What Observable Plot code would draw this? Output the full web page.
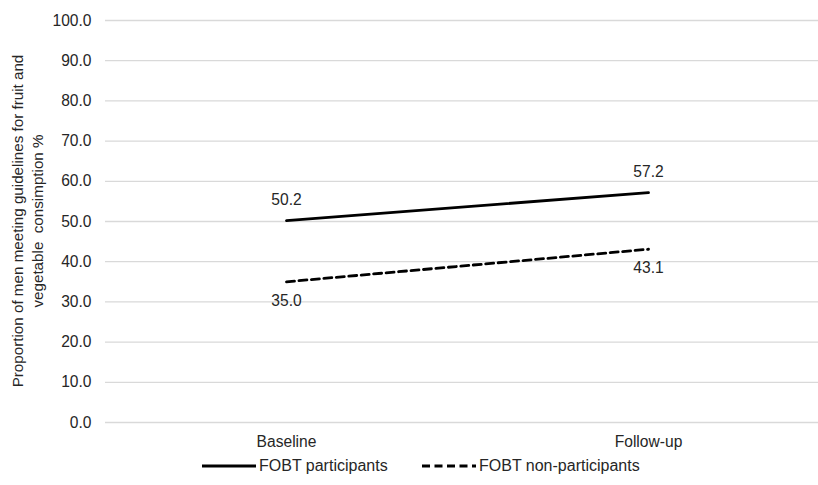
<!DOCTYPE html>
<html>
<head>
<meta charset="utf-8">
<script src="https://cdn.jsdelivr.net/npm/d3@7"></script>
<script src="https://cdn.jsdelivr.net/npm/@observablehq/plot@0.6"></script>
<style>
  html, body { margin: 0; padding: 0; background: #fff; }
  body { width: 818px; height: 485px; overflow: hidden; font-family: "Liberation Sans", Arial, sans-serif; }
  #legend { position: relative; height: 33px; font-size: 16px; color: #262626; }
  .item { position: absolute; top: 0; height: 28px; display: flex; align-items: center; }
  .item svg { margin-right: 3px; }
</style>
</head>
<body>
<div id="chart"></div>
<div id="legend"></div>
<script>
const timepoints = ["Baseline", "Follow-up"];
const participants = [50.2, 57.2];
const nonParticipants = [35.0, 43.1];
const seriesNames = ["FOBT participants", "FOBT non-participants"];
const yTicks = [0, 10, 20, 30, 40, 50, 60, 70, 80, 90, 100];
const yTitle = ["Proportion of men meeting guidelines for fruit and", "vegetable  consimption %"];

const rowsP = timepoints.map((t, i) => ({time: t, value: participants[i], series: seriesNames[0]}));
const rowsN = timepoints.map((t, i) => ({time: t, value: nonParticipants[i], series: seriesNames[1]}));

const ink = "#262626";
const fs = 15.6;

const chart = Plot.plot({
  width: 818,
  height: 452,
  marginLeft: 105,
  marginRight: 0,
  marginTop: 20,
  marginBottom: 30,
  style: {fontFamily: "'Liberation Sans', Arial, sans-serif", fontSize: fs + "px", color: ink, background: "#fff"},
  x: {type: "point", domain: timepoints, range: [286, 648], padding: 0, label: null},
  y: {domain: [0, 100], label: null},
  marks: [
    Plot.ruleY(yTicks, {stroke: "#d9d9d9", strokeWidth: 1.3}),
    Plot.axisY({ticks: yTicks, tickFormat: d3.format(".1f"), tickSize: 0, tickPadding: 14, fontSize: fs, label: null}),
    Plot.axisX({tickSize: 0, tickPadding: 13, fontSize: fs, label: null}),
    Plot.line(rowsP, {x: "time", y: "value", stroke: "#000", strokeWidth: 2.8}),
    Plot.line(rowsN, {x: "time", y: "value", stroke: "#000", strokeWidth: 2.8, strokeDasharray: "8,4.5"}),
    Plot.text(rowsP, {x: "time", y: "value", text: d => d3.format(".1f")(d.value), dy: -21, fontSize: fs, fill: ink}),
    Plot.text(rowsN, {x: "time", y: "value", text: d => d3.format(".1f")(d.value), dy: 19, fontSize: fs, fill: ink})
  ]
});

// rotated two-line y-axis title
const svg = d3.select(chart);
const title = svg.append("text")
  .attr("transform", "translate(28,221) rotate(-90)")
  .attr("text-anchor", "middle")
  .attr("font-size", 15.2)
  .attr("fill", ink);
yTitle.forEach((line, i) => {
  title.append("tspan").attr("x", 0).attr("dy", i === 0 ? "-0.3em" : "1.3em").text(line);
});

document.getElementById("chart").appendChild(chart);

// legend below
const legend = d3.select("#legend");
const lefts = [202, 422];
const dashes = [null, "8,4.5"];
seriesNames.forEach((name, i) => {
  const item = legend.append("div").attr("class", "item").style("left", lefts[i] + "px");
  const s = item.append("svg").attr("width", 54).attr("height", 6);
  s.append("line").attr("x1", 0).attr("x2", 54).attr("y1", 3).attr("y2", 3)
    .attr("stroke", "#000").attr("stroke-width", 2.8)
    .attr("stroke-dasharray", dashes[i]);
  item.append("span").text(name);
});
</script>
</body>
</html>
